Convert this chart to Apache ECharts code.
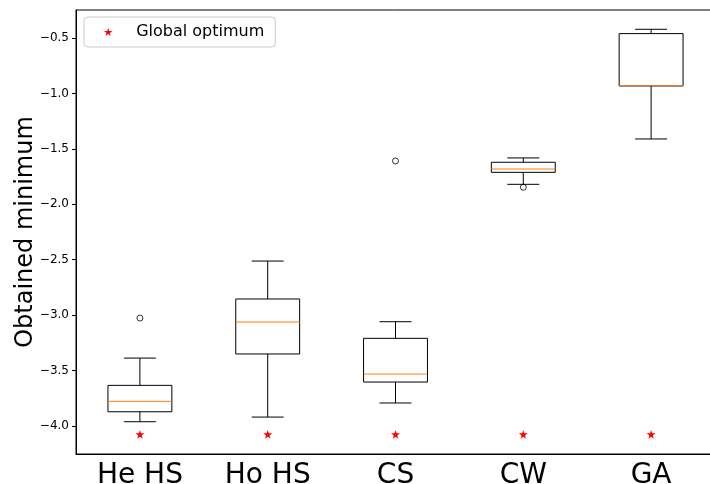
<!DOCTYPE html>
<html>
<head>
<meta charset="utf-8">
<script src="https://cdn.jsdelivr.net/npm/echarts@6/dist/echarts.min.js"></script>
<style>html,body{margin:0;padding:0;background:#fff;}#c{width:710px;height:484px;}</style>
</head>
<body>
<div id="c"></div>
<script>
const categories = ['He HS', 'Ho HS', 'CS', 'CW', 'GA'];
const whiskerLow  = [-3.961, -3.919, -3.792, -1.820, -1.411];
const q1          = [-3.871, -3.350, -3.603, -1.712, -0.933];
const median      = [-3.777, -3.062, -3.531, -1.682, -0.930];
const q3          = [-3.633, -2.854, -3.209, -1.621, -0.461];
const whiskerHigh = [-3.387, -2.512, -3.059, -1.582, -0.422];
const outliers = [[0, -3.026], [2, -1.609], [3, -1.847]];
const globalOptimum = [-4.075, -4.075, -4.075, -4.075, -4.075];
const yTicks = [-4.0, -3.5, -3.0, -2.5, -2.0, -1.5, -1.0, -0.5];

const FONT = 'DejaVu Sans';
const STAR = 'path://M100,0 L77.55,69.1 L4.9,69.1 L63.67,111.8 L41.22,180.9 L100,138.2 L158.78,180.9 L136.33,111.8 L195.1,69.1 L122.45,69.1 Z';
const fmt = v => (v < 0 ? '\u2212' : '') + Math.abs(v).toFixed(1);

const boxData = categories.map((c, i) => [i, whiskerLow[i], q1[i], median[i], q3[i], whiskerHigh[i]]);

const chart = echarts.init(document.getElementById('c'), null, {renderer: 'canvas'});
chart.setOption({
  animation: false,
  backgroundColor: '#fff',
  grid: {left: 76, top: 10, width: 639, height: 444, outerBoundsMode: 'none', containLabel: false,
         show: true, borderColor: '#000', borderWidth: 1, backgroundColor: 'transparent'},
  legend: {
    show: true,
    left: 84, top: 17,
    padding: [7, 11, 7, 20],
    itemWidth: 46, itemHeight: 8,
    borderColor: '#cccccc', borderWidth: 1, borderRadius: 4,
    backgroundColor: 'rgba(255,255,255,0.8)',
    textStyle: {fontFamily: FONT, fontSize: 16, color: '#000'},
    data: [{name: 'Global optimum', icon: STAR}]
  },
  xAxis: {
    type: 'category', data: categories, boundaryGap: true,
    axisLine: {lineStyle: {color: '#000', width: 1}},
    axisTick: {alignWithLabel: true, length: 4, lineStyle: {color: '#000'}},
    axisLabel: {fontFamily: FONT, fontSize: 28, color: '#000', margin: 8},
    splitLine: {show: false}
  },
  yAxis: {
    type: 'value', min: -4.252, max: -0.248,
    name: 'Obtained minimum', nameLocation: 'middle', nameGap: 38, nameMoveOverlap: false,
    nameTextStyle: {fontFamily: FONT, fontSize: 24, color: '#000'},
    axisLine: {show: true, lineStyle: {color: '#000', width: 1}},
    axisTick: {show: true, length: 4, customValues: yTicks, lineStyle: {color: '#000'}},
    axisLabel: {fontFamily: FONT, fontSize: 12, color: '#000', margin: 7, customValues: yTicks, formatter: fmt},
    splitLine: {show: false}
  },
  series: [
    {
      type: 'custom', name: 'box', data: boxData,
      renderItem: function (params, api) {
        const x = api.value(0);
        const bw = api.size([1, 0])[0];
        const hb = bw * 0.25, hc = bw * 0.125;
        const cx = api.coord([x, api.value(3)])[0];
        const yMin = api.coord([x, api.value(1)])[1];
        const yQ1 = api.coord([x, api.value(2)])[1];
        const yMed = api.coord([x, api.value(3)])[1];
        const yQ3 = api.coord([x, api.value(4)])[1];
        const yMax = api.coord([x, api.value(5)])[1];
        const ls = {stroke: '#000', lineWidth: 1, fill: null};
        return {type: 'group', children: [
          {type: 'line', shape: {x1: cx, y1: yQ3, x2: cx, y2: yMax}, style: ls},
          {type: 'line', shape: {x1: cx, y1: yQ1, x2: cx, y2: yMin}, style: ls},
          {type: 'line', shape: {x1: cx - hc, y1: yMax, x2: cx + hc, y2: yMax}, style: ls},
          {type: 'line', shape: {x1: cx - hc, y1: yMin, x2: cx + hc, y2: yMin}, style: ls},
          {type: 'rect', shape: {x: cx - hb, y: yQ3, width: 2 * hb, height: yQ1 - yQ3}, style: {stroke: '#000', lineWidth: 1, fill: 'none'}},
          {type: 'line', shape: {x1: cx - hb, y1: yMed, x2: cx + hb, y2: yMed}, style: {stroke: '#ff7f0e', lineWidth: 1}}
        ]};
      },
      z: 2
    },
    {
      type: 'scatter', name: 'outliers', data: outliers,
      symbol: 'circle', symbolSize: 6,
      itemStyle: {color: 'rgba(0,0,0,0)', borderColor: '#000', borderWidth: 1},
      z: 3
    },
    {
      type: 'scatter', name: 'Global optimum',
      data: globalOptimum.map((v, i) => [i, v]),
      symbol: STAR, symbolSize: 9, symbolKeepAspect: true,
      itemStyle: {color: '#ff0000', opacity: 1},
      z: 4
    }
  ]
});
</script>
</body>
</html>
